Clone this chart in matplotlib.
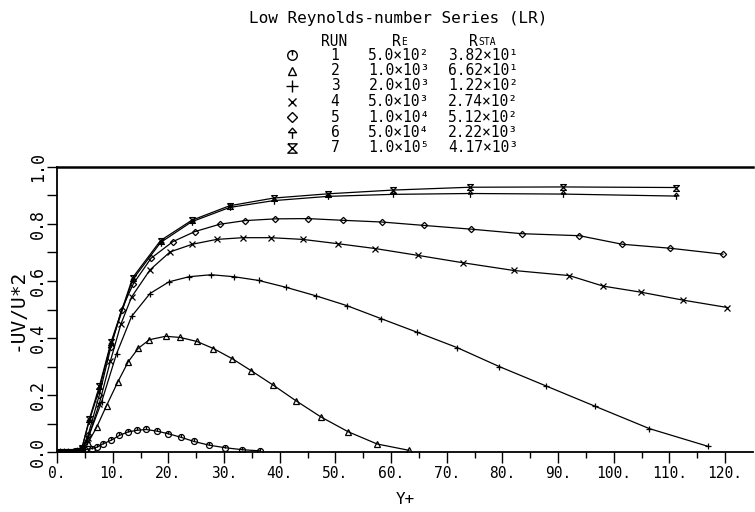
import numpy as np
import matplotlib
matplotlib.use("Agg")
import matplotlib.pyplot as plt
from matplotlib.path import Path

plt.rcParams['font.family'] = ['DejaVu Sans Mono', 'DejaVu Sans']

#---------------------------------------------------------------- data
run_ids = ['1', '2', '3', '4', '5', '6', '7']
re_labels = ['5.0×10²', '1.0×10³', '2.0×10³', '5.0×10³', '1.0×10⁴', '5.0×10⁴', '1.0×10⁵']
rsta_labels = ['3.82×10¹', '6.62×10¹', '1.22×10²', '2.74×10²', '5.12×10²', '2.22×10³', '4.17×10³']

wall_x = [0.6, 1.3, 2.0, 2.8, 3.6, 4.5]

x1 = wall_x + [5.1, 6.2, 7.2, 8.3, 9.7, 11.2, 12.7, 14.3, 16.0, 18.0, 20.0, 22.2, 24.6, 27.3, 30.2, 33.3, 36.5]
y1 = [0, 0, 0, 0, 0.001, 0.003, 0.008, 0.012, 0.017, 0.029, 0.041, 0.058, 0.070, 0.076, 0.079, 0.073,
      0.064, 0.052, 0.037, 0.024, 0.015, 0.008, 0.004]

x2 = wall_x + [5.5, 7.1, 8.9, 10.9, 12.8, 14.6, 16.6, 19.5, 22.1, 25.1, 28.1, 31.5, 34.9, 38.8, 42.9,
               47.4, 52.3, 57.5, 63.2]
y2 = [0, 0, 0, 0.001, 0.004, 0.010, 0.030, 0.086, 0.163, 0.245, 0.317, 0.364, 0.394, 0.406, 0.402,
      0.388, 0.363, 0.327, 0.285, 0.235, 0.180, 0.123, 0.071, 0.028, 0.006]

x3 = wall_x + [5.3, 8.0, 10.7, 13.4, 16.7, 20.1, 23.7, 27.7, 31.8, 36.2, 41.1, 46.5, 52.0, 58.2, 64.7,
               71.9, 79.4, 87.8, 96.7, 106.4, 116.9]
y3 = [0, 0, 0, 0.001, 0.004, 0.010, 0.035, 0.175, 0.345, 0.476, 0.556, 0.597, 0.615, 0.622, 0.615,
      0.602, 0.578, 0.548, 0.514, 0.468, 0.420, 0.366, 0.300, 0.232, 0.160, 0.082, 0.020]

x4 = wall_x + [5.6, 7.6, 9.6, 11.5, 13.4, 16.7, 20.3, 24.3, 28.7, 33.4, 38.4, 44.1, 50.4, 57.1, 64.8,
               72.9, 82.0, 92.0, 98.1, 104.8, 112.4, 120.4]
y4 = [0, 0, 0, 0.001, 0.004, 0.012, 0.050, 0.170, 0.320, 0.450, 0.544, 0.639, 0.702, 0.729, 0.746,
      0.752, 0.752, 0.746, 0.731, 0.714, 0.690, 0.664, 0.637, 0.619, 0.582, 0.561, 0.533, 0.507]

x5 = wall_x + [5.6, 7.6, 9.7, 11.6, 13.7, 16.9, 20.8, 24.7, 29.2, 33.8, 39.2, 45.0, 51.3, 58.3, 65.9,
               74.3, 83.5, 93.8, 101.5, 110.1, 119.6]
y5 = [0, 0, 0, 0.001, 0.004, 0.012, 0.060, 0.200, 0.370, 0.500, 0.590, 0.680, 0.738, 0.773, 0.799,
      0.812, 0.818, 0.819, 0.813, 0.807, 0.795, 0.782, 0.766, 0.759, 0.729, 0.715, 0.694]

x6 = wall_x + [5.8, 7.6, 9.7, 13.6, 18.6, 24.2, 31.0, 38.9, 48.7, 60.3, 74.2, 90.9, 111.2]
y6 = [0, 0, 0, 0.001, 0.004, 0.015, 0.110, 0.220, 0.380, 0.605, 0.735, 0.808, 0.858, 0.882, 0.897,
      0.904, 0.907, 0.905, 0.898]

x7 = wall_x + [5.8, 7.6, 9.7, 13.6, 18.6, 24.2, 31.0, 38.9, 48.7, 60.3, 74.2, 90.9, 111.2]
y7 = [0, 0, 0, 0.001, 0.004, 0.015, 0.115, 0.230, 0.385, 0.612, 0.742, 0.813, 0.864, 0.891, 0.906,
      0.919, 0.929, 0.930, 0.928]

x_ticks = [0, 10, 20, 30, 40, 50, 60, 70, 80, 90, 100, 110, 120]
x_ticklabels = [str(v) + '.' for v in x_ticks]
y_ticks = [0.0, 0.2, 0.4, 0.6, 0.8, 1.0]
y_ticklabels = ['0.0', '0.2', '0.4', '0.6', '0.8', '1.0']

#---------------------------------------------------------------- custom plotter-like markers
M, L = Path.MOVETO, Path.LINETO
circ = Path.unit_circle()
m_circle = Path.make_compound_path(circ, Path([(0, 1.0), (0, 0.0)], [M, L]))
m_arrow = Path([(0, -1), (0, 0.3), (-0.75, 0.15), (0, 1), (0.75, 0.15), (-0.75, 0.15)],
               [M, L, M, L, L, L])
m_hour = Path([(-1, 1), (1, 1), (-1, -1), (1, -1), (-1, 1)], [M, L, L, L, L])

styles = [
    dict(marker=m_circle, ms=4.3, mfc='none'),
    dict(marker='^', ms=3.8, mfc='none'),
    dict(marker='+', ms=5),
    dict(marker='x', ms=3.8),
    dict(marker='D', ms=3.2, mfc='none'),
    dict(marker=m_arrow, ms=4.8, mfc='none'),
    dict(marker=m_hour, ms=4.2, mfc='none'),
]
series = [(x1, y1), (x2, y2), (x3, y3), (x4, y4), (x5, y5), (x6, y6), (x7, y7)]

fig = plt.figure(figsize=(7.55, 5.12), dpi=100)
ax = fig.add_axes([57 / 755, 60 / 512, 696 / 755, 285 / 512])

for (xs, ys), st in zip(series, styles):
    ax.plot(xs, ys, color='black', lw=0.9, mec='black', mew=0.9, **st)

ax.set_xlim(0, 125)
ax.set_ylim(0, 1.0)
ax.spines['right'].set_visible(False)
ax.spines['top'].set_linewidth(1.8)
ax.spines['left'].set_linewidth(1.3)
ax.spines['bottom'].set_linewidth(1.3)

ax.set_xticks(x_ticks)
ax.set_xticklabels(x_ticklabels, fontsize=10.5)
ax.set_xticks(np.arange(5, 125, 10), minor=True)
ax.tick_params(axis='x', which='major', direction='out', length=8, width=1, pad=2)
ax.tick_params(axis='x', which='minor', direction='out', length=4, width=1)

ax.set_yticks(y_ticks)
ax.set_yticklabels(y_ticklabels, fontsize=12, rotation=90, va='center')
ax.set_yticks(np.arange(0.1, 1.0, 0.2), minor=True)
ax.tick_params(axis='y', which='both', direction='out', length=7, width=1, pad=0)

ax.set_xlabel('Y+', fontsize=11.5, labelpad=8)
ax.set_ylabel('-UV/U*2', fontsize=14, labelpad=2)

#---------------------------------------------------------------- title + run table (pixel layout)
lg = fig.add_axes([0, 0, 1, 1], zorder=-1)
lg.set_xlim(0, 755)
lg.set_ylim(512, 0)
lg.axis('off')

lg.text(398, 18, 'Low Reynolds-number Series (LR)', fontsize=11.5, ha='center', va='center')
lg.text(334, 41, 'RUN', fontsize=10.5, ha='center', va='center')
lg.text(401, 41, 'R', fontsize=10.5, ha='right', va='center')
lg.text(401, 42, 'E', fontsize=7, ha='left', va='center')
lg.text(478, 41, 'R', fontsize=10.5, ha='right', va='center')
lg.text(478, 42, 'STA', fontsize=7, ha='left', va='center')

row_y = 55
for rid, re_s, rs_s, st in zip(run_ids, re_labels, rsta_labels, styles):
    lg.plot([292], [row_y], color='black', mec='black', mew=1.0,
            **{k: (v * 1.6 if k == 'ms' else v) for k, v in st.items()})
    lg.text(335, row_y, rid, fontsize=10.5, ha='center', va='center')
    lg.text(399, row_y, re_s, fontsize=10.5, ha='center', va='center')
    lg.text(483, row_y, rs_s, fontsize=10.5, ha='center', va='center')
    row_y += 15.5

fig.savefig('out.png', dpi=100)
